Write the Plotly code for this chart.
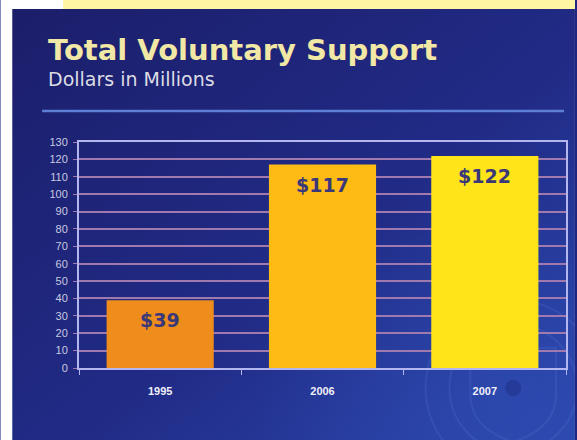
import base64
import plotly.graph_objects as go

# ---- data ----
years = ["1995", "2006", "2007"]
support_millions = [39, 117, 122]
value_labels = ["$39", "$117", "$122"]
bar_colors = ["#ee8c1c", "#fdbb14", "#ffe41a"]

W, H = 577, 440
ML, MR, MT, MB = 79, 9, 142, 72
PW, PH = W - ML - MR, H - MT - MB

svg = f'''<svg xmlns="http://www.w3.org/2000/svg" width="{W}" height="{H}" viewBox="0 0 {W} {H}">
<defs>
<linearGradient id="g" x1="0" y1="0" x2="1" y2="1">
<stop offset="0" stop-color="#1b1e6a"/>
<stop offset="0.55" stop-color="#212b86"/>
<stop offset="1" stop-color="#2b47ad"/>
</linearGradient>
<radialGradient id="r" cx="0.88" cy="0.9" r="0.45">
<stop offset="0" stop-color="#3050b8" stop-opacity="0.5"/>
<stop offset="1" stop-color="#3050b8" stop-opacity="0"/>
</radialGradient>
</defs>
<rect x="0" y="0" width="{W}" height="{H}" fill="#ffffff"/>
<rect x="12" y="9" width="{W-12}" height="{H-9}" fill="url(#g)"/>
<rect x="12" y="9" width="{W-12}" height="{H-9}" fill="url(#r)"/>
<rect x="63" y="0" width="{W-63}" height="9" fill="#fff5a3"/>
<g fill="none" stroke="#5a78d0" stroke-opacity="0.22" stroke-width="2">
<circle cx="515" cy="388" r="88"/>
<circle cx="515" cy="388" r="64"/>
<path d="M472 348 L558 348 L558 395 Q558 428 515 442 Q472 428 472 395 Z"/>
</g>
<circle cx="515" cy="388" r="8" fill="#1c2a80" fill-opacity="0.45"/>
</svg>'''
src = "data:image/svg+xml;base64," + base64.b64encode(svg.encode()).decode()

fig = go.Figure(
    go.Bar(
        x=years,
        y=support_millions,
        marker=dict(color=bar_colors, line=dict(width=0)),
        hoverinfo="skip",
    )
)

for i, (val, lab) in enumerate(zip(support_millions, value_labels)):
    fig.add_annotation(
        x=i, y=val, xref="x", yref="y", text=lab, showarrow=False,
        yanchor="middle", yshift=-20,
        font=dict(family="DejaVu Sans", size=19, color="#3a3878", weight="bold"),
    )

# title / subtitle
fig.add_annotation(
    xref="paper", yref="paper", x=(46 - ML) / PW, y=1 + (MT - 31) / PH,
    xanchor="left", yanchor="top", showarrow=False,
    text="Total Voluntary Support",
    font=dict(family="DejaVu Sans", size=29, color="#f2e8a6", weight="bold"),
)
fig.add_annotation(
    xref="paper", yref="paper", x=(46 - ML) / PW, y=1 + (MT - 66) / PH,
    xanchor="left", yanchor="top", showarrow=False,
    text="Dollars in Millions",
    font=dict(family="DejaVu Sans", size=19, color="#dcdce4"),
)

fig.add_shape(
    type="line", xref="paper", yref="paper",
    x0=(42 - ML) / PW, x1=(566 - ML) / PW,
    y0=1 + (MT - 111) / PH, y1=1 + (MT - 111) / PH,
    line=dict(color="#5d7fd6", width=2.5),
)

fig.add_layout_image(
    source=src, xref="paper", yref="paper",
    x=-ML / PW, y=1 + MT / PH, sizex=W / PW, sizey=H / PH,
    xanchor="left", yanchor="top", sizing="stretch", layer="below",
)

fig.update_layout(
    width=W, height=H,
    margin=dict(l=ML, r=MR, t=MT, b=MB, pad=0),
    paper_bgcolor="#1f2680",
    plot_bgcolor="rgba(0,0,0,0)",
    bargap=0.34,
    showlegend=False,
    xaxis=dict(
        type="category", range=[-0.5, len(years) - 0.5],
        showline=True, mirror=True, linecolor="#b4b6f0", linewidth=2,
        showgrid=False, ticks="outside", tickson="boundaries", ticklen=5,
        tickcolor="#b4b6f0", ticklabelstandoff=12,
        tickfont=dict(family="Liberation Sans Narrow, Liberation Sans", size=11,
                      color="#f0f0f8", weight="bold"),
    ),
    yaxis=dict(
        range=[0, 130], dtick=10, showline=True, mirror=True,
        linecolor="#b4b6f0", linewidth=2, showgrid=True,
        gridcolor="#a07aae", gridwidth=1.5, zeroline=False,
        ticks="outside", ticklen=4, tickcolor="#a07aae", ticklabelstandoff=3,
        tickfont=dict(family="Liberation Sans Narrow, Liberation Sans", size=11,
                      color="#c8cae0"),
    ),
)

fig.write_html("out.html")
